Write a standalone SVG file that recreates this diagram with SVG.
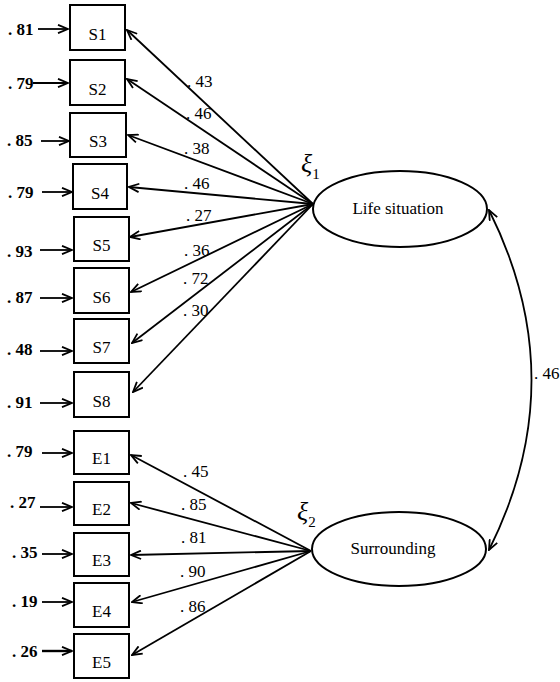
<svg xmlns="http://www.w3.org/2000/svg" width="560" height="682" viewBox="0 0 560 682">
<style>
text{font-family:'Liberation Serif','DejaVu Serif','Times New Roman',serif;fill:#000}
.box{fill:#fff;stroke:#000;stroke-width:2}
.lat{fill:#fff;stroke:#000;stroke-width:2}
.lbl{font-size:17px;text-anchor:middle}
.err{font-size:17px;font-weight:bold}
.ld{font-size:17px}
.xi{font-size:26px;font-style:italic}
.xi tspan{font-size:15px;font-style:normal}
.cn line,.cn path{stroke:#000;stroke-width:1.8;fill:none}
</style>
<defs>
<marker id="ah" viewBox="0 0 12 10" refX="11" refY="5" markerWidth="12" markerHeight="10" markerUnits="userSpaceOnUse" orient="auto-start-reverse">
<path d="M1,0.8 L11,5 L1,9.2" fill="none" stroke="#000" stroke-width="1.8"/>
</marker>
</defs>
<rect width="560" height="682" fill="#fff"/>
<g class="cn" id="connectors">
<line x1="38" y1="29" x2="68" y2="29" marker-end="url(#ah)"/>
<line x1="33" y1="83" x2="68" y2="83" marker-end="url(#ah)"/>
<line x1="41" y1="141" x2="69" y2="141" marker-end="url(#ah)"/>
<line x1="42" y1="192" x2="72" y2="192" marker-end="url(#ah)"/>
<line x1="40" y1="250" x2="72" y2="250" marker-end="url(#ah)"/>
<line x1="40" y1="298" x2="72" y2="298" marker-end="url(#ah)"/>
<line x1="40" y1="351" x2="72" y2="351" marker-end="url(#ah)"/>
<line x1="40" y1="403" x2="72" y2="403" marker-end="url(#ah)"/>
<line x1="42" y1="453" x2="72" y2="453" marker-end="url(#ah)"/>
<line x1="40" y1="507" x2="72" y2="507" marker-end="url(#ah)"/>
<line x1="42" y1="554" x2="72" y2="554" marker-end="url(#ah)"/>
<line x1="42" y1="602" x2="72" y2="602" marker-end="url(#ah)"/>
<line x1="42" y1="651" x2="72" y2="651" marker-end="url(#ah)" style="stroke-width:2.4"/>
<line x1="313" y1="204" x2="127" y2="30" marker-end="url(#ah)"/>
<line x1="313" y1="204" x2="127" y2="79" marker-end="url(#ah)"/>
<line x1="313" y1="204" x2="128" y2="135" marker-end="url(#ah)"/>
<line x1="313" y1="204" x2="129" y2="187" marker-end="url(#ah)"/>
<line x1="313" y1="204" x2="130" y2="237" marker-end="url(#ah)"/>
<line x1="313" y1="204" x2="131" y2="292" marker-end="url(#ah)"/>
<line x1="313" y1="204" x2="132" y2="343" marker-end="url(#ah)"/>
<line x1="313" y1="204" x2="133" y2="392" marker-end="url(#ah)"/>
<line x1="311" y1="551" x2="131" y2="455" marker-end="url(#ah)"/>
<line x1="311" y1="551" x2="131" y2="503" marker-end="url(#ah)"/>
<line x1="311" y1="551" x2="131" y2="555" marker-end="url(#ah)"/>
<line x1="311" y1="551" x2="132" y2="602" marker-end="url(#ah)"/>
<line x1="311" y1="551" x2="132" y2="655" marker-end="url(#ah)"/>
<path d="M489,210 Q574,380 489,550" marker-start="url(#ah)" marker-end="url(#ah)"/>
</g>
<g id="S1"><rect class="box" x="70" y="5" width="55" height="45"/><text class="lbl" x="97.5" y="40">S1</text></g>
<g id="S2"><rect class="box" x="70" y="60" width="55" height="45"/><text class="lbl" x="97.5" y="95">S2</text></g>
<g id="S3"><rect class="box" x="70" y="113" width="56" height="44"/><text class="lbl" x="98" y="147">S3</text></g>
<g id="S4"><rect class="box" x="73" y="164" width="54" height="45"/><text class="lbl" x="100" y="199">S4</text></g>
<g id="S5"><rect class="box" x="74" y="217" width="55" height="44"/><text class="lbl" x="101.5" y="251">S5</text></g>
<g id="S6"><rect class="box" x="74" y="268" width="55" height="45"/><text class="lbl" x="101.5" y="303">S6</text></g>
<g id="S7"><rect class="box" x="74" y="319" width="55" height="44"/><text class="lbl" x="101.5" y="353">S7</text></g>
<g id="S8"><rect class="box" x="74" y="372" width="55" height="45"/><text class="lbl" x="101.5" y="407">S8</text></g>
<g id="E1"><rect class="box" x="74" y="431" width="55" height="43"/><text class="lbl" x="101.5" y="464">E1</text></g>
<g id="E2"><rect class="box" x="74" y="482" width="55" height="43"/><text class="lbl" x="101.5" y="515">E2</text></g>
<g id="E3"><rect class="box" x="74" y="533" width="55" height="43"/><text class="lbl" x="101.5" y="566">E3</text></g>
<g id="E4"><rect class="box" x="74" y="583" width="55" height="44"/><text class="lbl" x="101.5" y="617">E4</text></g>
<g id="E5"><rect class="box" x="74" y="634" width="55" height="44"/><text class="lbl" x="101.5" y="668">E5</text></g>
<g id="errors">
<text class="err" x="8" y="35">. 81</text>
<text class="err" x="8" y="89">. 79</text>
<text class="err" x="7" y="146">. 85</text>
<text class="err" x="8" y="198">. 79</text>
<text class="err" x="7" y="257">. 93</text>
<text class="err" x="7" y="303">. 87</text>
<text class="err" x="7" y="355">. 48</text>
<text class="err" x="7" y="408">. 91</text>
<text class="err" x="7" y="457">. 79</text>
<text class="err" x="10" y="508">. 27</text>
<text class="err" x="12" y="558">. 35</text>
<text class="err" x="12" y="607">. 19</text>
<text class="err" x="12" y="657">. 26</text>
</g>
<g id="loadings">
<text class="ld" x="187" y="87">. 43</text>
<text class="ld" x="186" y="119">. 46</text>
<text class="ld" x="184" y="154">. 38</text>
<text class="ld" x="184" y="189">. 46</text>
<text class="ld" x="186" y="221">. 27</text>
<text class="ld" x="184" y="256">. 36</text>
<text class="ld" x="183" y="284">. 72</text>
<text class="ld" x="183" y="316">. 30</text>
<text class="ld" x="183" y="477">. 45</text>
<text class="ld" x="181" y="510">. 85</text>
<text class="ld" x="181" y="543">. 81</text>
<text class="ld" x="180" y="577">. 90</text>
<text class="ld" x="180" y="612">. 86</text>
<text class="ld" x="534" y="379">. 46</text>
</g>
<g id="LifeSituation">
<ellipse class="lat" cx="400" cy="209" rx="87" ry="38"/>
<text x="398" y="214" font-size="17" text-anchor="middle">Life situation</text>
<text class="xi" x="301" y="172">ξ<tspan dy="7">1</tspan></text>
</g>
<g id="Surrounding">
<ellipse class="lat" cx="399" cy="549" rx="87" ry="37"/>
<text x="393" y="554" font-size="17" text-anchor="middle">Surrounding</text>
<text class="xi" x="297" y="520">ξ<tspan dy="7">2</tspan></text>
</g>
</svg>
